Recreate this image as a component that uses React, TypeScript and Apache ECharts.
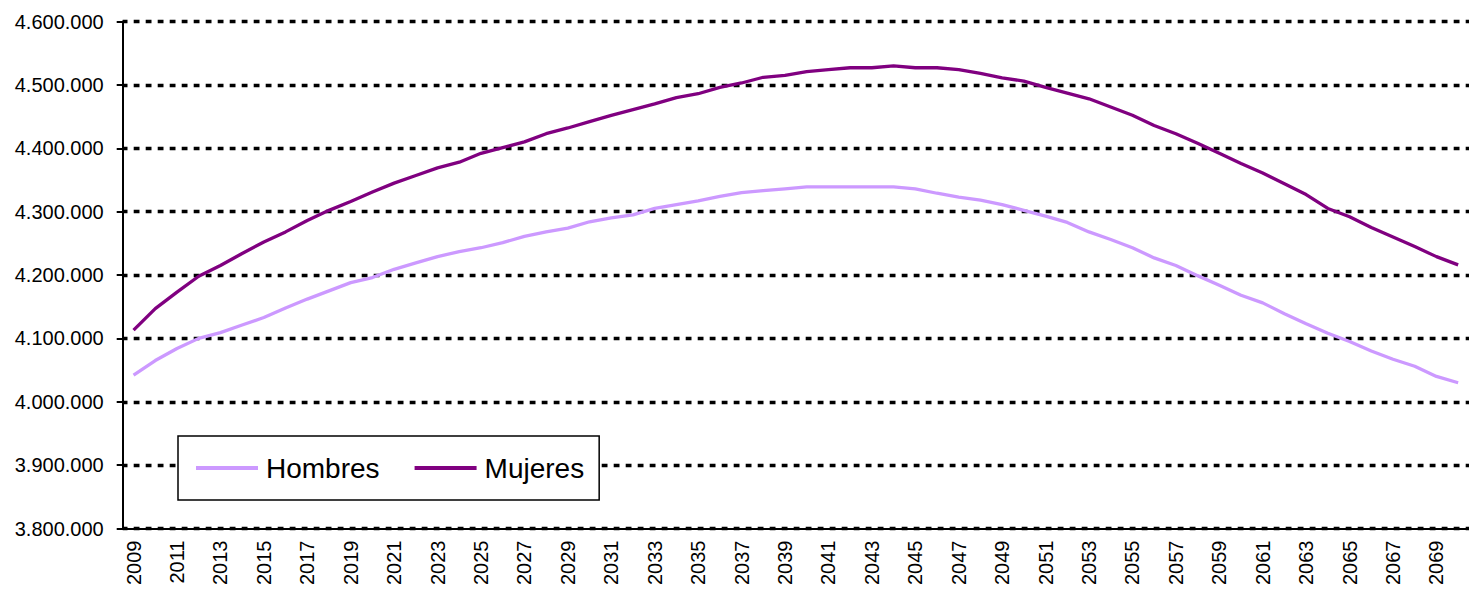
import React, { useEffect, useRef } from "react";
import * as echarts from "echarts";

const years: string[] = [];
for (let y = 2009; y <= 2070; y++) years.push(String(y));

const hombres = [
  4042000, 4065000, 4084000, 4100000, 4109000, 4121000, 4133000, 4148000, 4162000, 4175000,
  4188000, 4196000, 4209000, 4219000, 4229000, 4237000, 4243000, 4251000, 4261000, 4268000,
  4274000, 4284000, 4290000, 4295000, 4305000, 4311000, 4317000, 4324000, 4330000, 4333000,
  4336000, 4339000, 4339000, 4339000, 4339000, 4339000, 4336000, 4329000, 4323000, 4318000,
  4311000, 4302000, 4293000, 4283000, 4268000, 4256000, 4243000, 4227000, 4215000, 4199000,
  4184000, 4168000, 4156000, 4139000, 4123000, 4108000, 4095000, 4080000, 4067000, 4056000,
  4040000, 4030000,
];

const mujeres = [
  4113000, 4147000, 4173000, 4198000, 4215000, 4234000, 4252000, 4268000, 4286000, 4302000,
  4316000, 4331000, 4345000, 4357000, 4369000, 4378000, 4392000, 4401000, 4410000, 4423000,
  4432000, 4442000, 4452000, 4461000, 4470000, 4480000, 4486000, 4496000, 4503000, 4512000,
  4515000, 4521000, 4524000, 4527000, 4527000, 4530000, 4527000, 4527000, 4524000, 4518000,
  4511000, 4506000, 4496000, 4487000, 4478000, 4465000, 4452000, 4436000, 4423000, 4408000,
  4392000, 4376000, 4361000, 4344000, 4327000, 4305000, 4292000, 4275000, 4260000, 4245000,
  4229000, 4216000,
];

const seriesNames = ["Hombres", "Mujeres"];
const seriesColors = ["#CC99FF", "#800080"];
const yMin = 3800000;
const yMax = 4600000;
const yStep = 100000;

const FONT = "'Liberation Sans', Arial, sans-serif";

function fmt(v: number): string {
  return String(v).replace(/\B(?=(\d{3})+(?!\d))/g, ".");
}

export default function App() {
  const ref = useRef<HTMLDivElement>(null);
  useEffect(() => {
    if (!ref.current) return;
    const chart = echarts.init(ref.current, undefined, { renderer: "svg" });
    chart.setOption({
      animation: false,
      backgroundColor: "#fff",
      grid: { left: 122.7, right: -5, top: 21.5, bottom: 61.5, containLabel: false },
      legend: {
        data: seriesNames,
        left: 178,
        top: 436,
        orient: "horizontal",
        padding: [18, 15, 18, 18],
        itemGap: 35,
        itemWidth: 62,
        itemHeight: 4,
        icon: "rect",
        borderColor: "#000",
        borderWidth: 1.5,
        backgroundColor: "#fff",
        textStyle: { fontSize: 28, color: "#000", fontFamily: FONT, padding: [0, 0, 0, 3] },
      },
      xAxis: {
        type: "category",
        data: years,
        boundaryGap: true,
        axisLine: { lineStyle: { color: "#000", width: 2 } },
        axisTick: { interval: 0, length: 6, lineStyle: { color: "#000", width: 2 } },
        axisLabel: {
          interval: 1,
          rotate: 90,
          fontSize: 20,
          color: "#000",
          fontFamily: FONT,
          margin: 12,
        },
        splitLine: { show: false },
      },
      yAxis: {
        type: "value",
        min: yMin,
        max: yMax,
        interval: yStep,
        axisLine: { show: true, lineStyle: { color: "#000", width: 2 } },
        axisTick: { show: true, length: 6, lineStyle: { color: "#000", width: 2 } },
        axisLabel: {
          fontSize: 20,
          color: "#000",
          fontFamily: FONT,
          margin: 19,
          formatter: (v: number) => fmt(v),
        },
        splitLine: {
          show: true,
          lineStyle: { color: "#000", width: 3.3, type: [5.8, 6.2], dashOffset: 1.2 },
        },
      },
      series: [
        {
          name: seriesNames[0],
          type: "line",
          data: hombres,
          symbol: "none",
          itemStyle: { color: seriesColors[0] },
          lineStyle: { color: seriesColors[0], width: 3.3 },
        },
        {
          name: seriesNames[1],
          type: "line",
          data: mujeres,
          symbol: "none",
          itemStyle: { color: seriesColors[1] },
          lineStyle: { color: seriesColors[1], width: 3.3 },
        },
      ],
    });
    return () => chart.dispose();
  }, []);
  return (
    <div
      ref={ref}
      style={{ position: "fixed", left: 0, top: 0, width: 1469, height: 590, background: "#fff" }}
    />
  );
}
